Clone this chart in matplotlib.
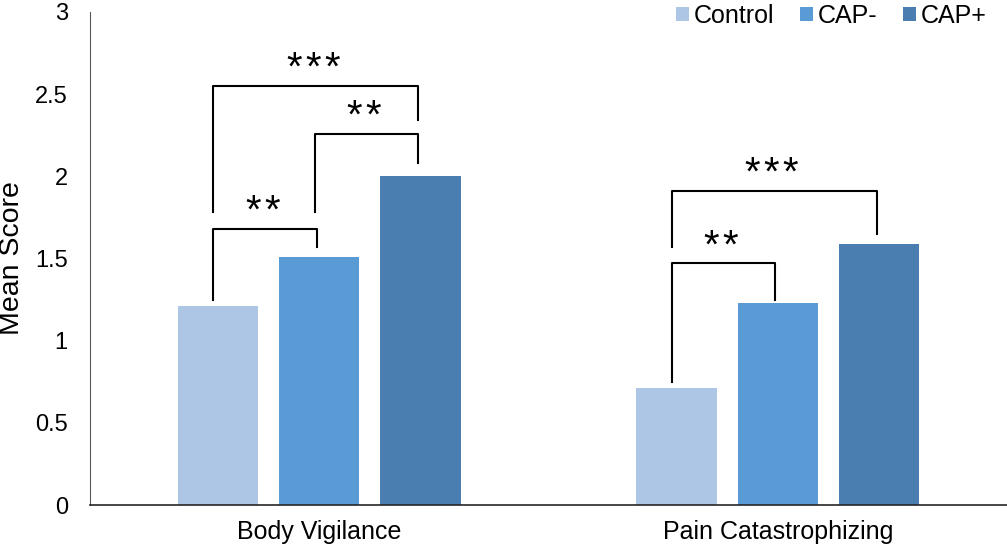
import numpy as np
import matplotlib.pyplot as plt

plt.rcParams['font.family'] = ['Liberation Sans', 'DejaVu Sans']

categories = ["Body Vigilance", "Pain Catastrophizing"]
groups = ["Control", "CAP-", "CAP+"]
control = [1.21, 0.71]
cap_minus = [1.51, 1.23]
cap_plus = [2.0, 1.59]
colors = ["#aec6e6", "#5b9bd5", "#4a7eb0"]

# significance brackets: (category, group a, group b, y left end, y right end, y top, label)
brackets = [
    (0, 0, 1, 1.25, 1.57, 1.68, "**"),
    (0, 1, 2, 1.78, 2.08, 2.26, "**"),
    (0, 0, 2, 1.78, 2.34, 2.55, "***"),
    (1, 0, 1, 0.75, 1.25, 1.47, "**"),
    (1, 0, 2, 1.57, 1.65, 1.91, "***"),
]

fig = plt.figure(figsize=(10.07, 5.49), dpi=100)
ax = fig.add_axes([90 / 1007, 1 - 505 / 549, 917 / 1007, 493 / 549])

x = np.arange(len(categories))
width = 0.175
step = 0.221
series = [control, cap_minus, cap_plus]
for i, (vals, c, g) in enumerate(zip(series, colors, groups)):
    ax.bar(x + (i - 1) * step, vals, width, color=c, label=g, zorder=2)

for cat, a, b, y1, y2, top, lab in brackets:
    xa = cat + (a - 1) * step - 0.01
    xb = cat + (b - 1) * step - 0.005
    ax.plot([xa, xa, xb, xb], [y1, top, top, y2], color="black", lw=1.5, zorder=3)
    ax.text((xa + xb) / 2 - 0.005, top + 0.035, "\u200a".join(lab), ha="center",
            va="baseline", fontsize=29)

ax.set_xlim(-0.5, 1.5)
ax.set_ylim(0, 3)
ax.set_yticks([0, 0.5, 1, 1.5, 2, 2.5, 3])
ax.set_yticklabels(["0", "0.5", "1", "1.5", "2", "2.5", "3"])
ax.set_xticks(x)
ax.set_xticklabels(categories)
ax.tick_params(axis="both", length=0)
ax.tick_params(axis="y", pad=16, labelsize=17)
ax.tick_params(axis="x", pad=11, labelsize=18)
ax.set_ylabel("Mean Score", fontsize=20.5)
ax.yaxis.label.set_va("center")
ax.yaxis.set_label_coords(-0.085, 0.5)

ax.spines["top"].set_visible(False)
ax.spines["right"].set_visible(False)
ax.spines["left"].set_color("#595959")
ax.spines["bottom"].set_color("#262626")
ax.spines["bottom"].set_linewidth(1.2)

fig.legend(*ax.get_legend_handles_labels(), loc="upper right",
           bbox_to_anchor=(987 / 1007, 1 - 4 / 549), ncol=3, frameon=False,
           fontsize=18, handlelength=0.52, handleheight=0.52, handletextpad=0.22,
           columnspacing=1.0, borderpad=0, borderaxespad=0)

fig.savefig("out.png", dpi=100)
